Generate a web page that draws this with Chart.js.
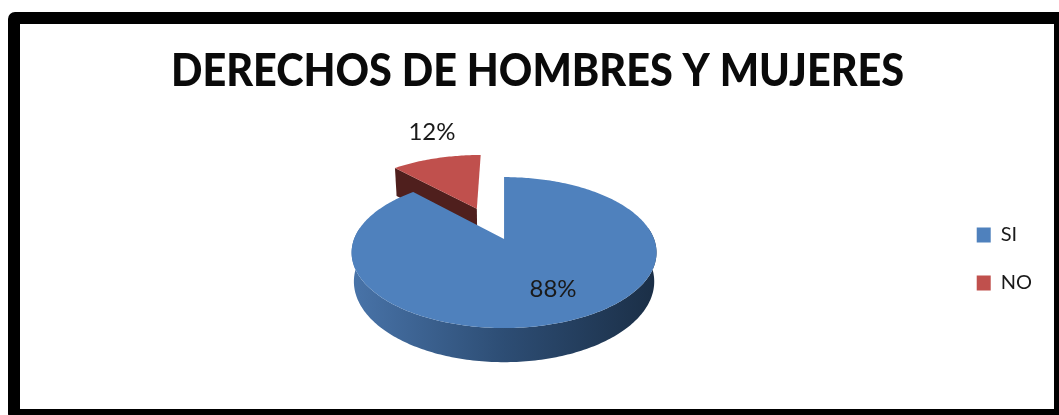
<!DOCTYPE html>
<html>
<head>
<meta charset="utf-8">
<style>
  html, body { margin: 0; padding: 0; background: #fff; overflow: hidden; width: 1059px; height: 415px; }
  .frame { position: absolute; left: 8px; top: 12px; width: 1034px; height: 385px; border: 12px solid #000; border-radius: 7px; background: #fff; box-sizing: content-box; }
  canvas { position: absolute; left: 0; top: 0; }
</style>
<script src="https://cdn.jsdelivr.net/npm/chart.js@4"></script>
</head>
<body>
<div class="frame"></div>
<canvas id="c" width="1059" height="415"></canvas>
<script>
const categories = ['SI', 'NO'];
const values = [88, 12];
const topColors = ['#4f81bd', '#c0504d'];

// the 3d look, as fractions of the pie radius
const TILT = 0.179, SQUASH = 0.487, DROP = 0.187;
const SHIFT_X = 0.088, LIFT = 0.133;
const EXPLODE = [0, 0.49], EXPLODE_TURN = -2 * Math.PI / 180;
const WALL = '#4f1f1d';
const LABEL_R = [0.676, 1.59], LABEL_TURN = [-3.9, 5];
const TITLE_STRETCH = 0.92;

const project = (arc, u, v, down) => {
  const R = arc.outerRadius, w = 1 - TILT * v;
  return {
    x: arc.x + SHIFT_X * R + R * u / w * (down ? 0.985 : 1),
    y: arc.y - LIFT * R + SQUASH * R * v / w + (down ? DROP * R * Math.max(1, 1 / w) : 0),
  };
};

const pt = (arc, i, r, a, down) => {
  const mid = (arc.startAngle + arc.endAngle) / 2 + EXPLODE_TURN;
  return project(arc, EXPLODE[i] * Math.cos(mid) + r * Math.cos(a), EXPLODE[i] * Math.sin(mid) + r * Math.sin(a), down);
};

const poly = (ctx, pts) => {
  ctx.beginPath();
  pts.forEach((p, n) => n ? ctx.lineTo(p.x, p.y) : ctx.moveTo(p.x, p.y));
  ctx.closePath();
};

const pie3d = {
  id: 'pie3d',
  // calibri is narrower than anything installed, so squeeze the title sideways
  beforeDraw(chart) {
    const block = chart.titleBlock;
    if (block._squeezed) return;
    const draw = block.draw.bind(block);
    block.draw = () => {
      const { ctx } = chart, mid = (block.left + block.right) / 2;
      ctx.save();
      ctx.translate(mid, 0);
      ctx.scale(TITLE_STRETCH, 1);
      ctx.translate(-mid, 0);
      draw();
      ctx.restore();
    };
    block._squeezed = true;
  },
  beforeDatasetDraw(chart) {
    const { ctx } = chart;
    const arcs = chart.getDatasetMeta(0).data;
    ctx.save();
    for (let i = arcs.length - 1; i >= 0; i--) {
      const arc = arcs[i], s = arc.startAngle, e = arc.endAngle;
      const rim = [];
      for (let a = s; a < e; a += Math.PI / 180) rim.push(a);
      rim.push(e);

      // cut wall, only when it turns toward the viewer
      if (Math.sin(s - Math.PI / 2) > 0.01) {
        poly(ctx, [pt(arc, i, 0, s, false), pt(arc, i, 1, s, false), pt(arc, i, 1, s, true), pt(arc, i, 0, s, true)]);
        ctx.fillStyle = WALL;
        ctx.fill();
      }

      // outer side
      const front = rim.filter(a => Math.sin(a) > -0.17);
      if (front.length) {
        const g = ctx.createLinearGradient(project(arc, -1, 0).x, 0, project(arc, 1, 0).x, 0);
        g.addColorStop(0, '#4873a8');
        g.addColorStop(0.5, '#2d4d74');
        g.addColorStop(1, '#1b2f47');
        poly(ctx, front.map(a => pt(arc, i, 1, a, false)).concat(front.slice().reverse().map(a => pt(arc, i, 1, a, true))));
        ctx.fillStyle = g;
        ctx.fill();
      }

      // top face
      poly(ctx, [pt(arc, i, 0, s, false)].concat(rim.map(a => pt(arc, i, 1, a, false))));
      ctx.fillStyle = arc.options.backgroundColor;
      ctx.fill();
    }
    ctx.restore();
    return false;
  },
  afterDatasetsDraw(chart) {
    const { ctx } = chart;
    const total = values.reduce((a, b) => a + b, 0);
    ctx.save();
    ctx.font = '24px Lato';
    ctx.fillStyle = '#1a1a1a';
    ctx.textAlign = 'center';
    ctx.textBaseline = 'middle';
    chart.getDatasetMeta(0).data.forEach((arc, i) => {
      const a = (arc.startAngle + arc.endAngle) / 2 + LABEL_TURN[i] * Math.PI / 180;
      const p = pt(arc, i, LABEL_R[i], a, false);
      ctx.fillText(Math.round(values[i] / total * 100) + '%', p.x, p.y);
    });
    ctx.restore();
  },
};

new Chart(document.getElementById('c'), {
  type: 'pie',
  data: {
    labels: categories,
    datasets: [{ data: values, backgroundColor: topColors, borderWidth: 0 }],
  },
  options: {
    responsive: false,
    animation: false,
    layout: { padding: { left: 33, right: 17, top: 0, bottom: 6 } },
    plugins: {
      tooltip: { enabled: false },
      title: {
        display: true,
        text: 'DERECHOS DE HOMBRES Y MUJERES',
        color: '#0a0a0a',
        font: { family: 'Lato', size: 45, weight: 900 },
        padding: { top: 44, bottom: 11 },
      },
      legend: {
        position: 'right',
        fullSize: false,
        labels: { boxWidth: 14, boxHeight: 15, padding: 28, color: '#1a1a1a', font: { family: 'Lato', size: 20 } },
      },
    },
  },
  plugins: [pie3d],
});
</script>
</body>
</html>
